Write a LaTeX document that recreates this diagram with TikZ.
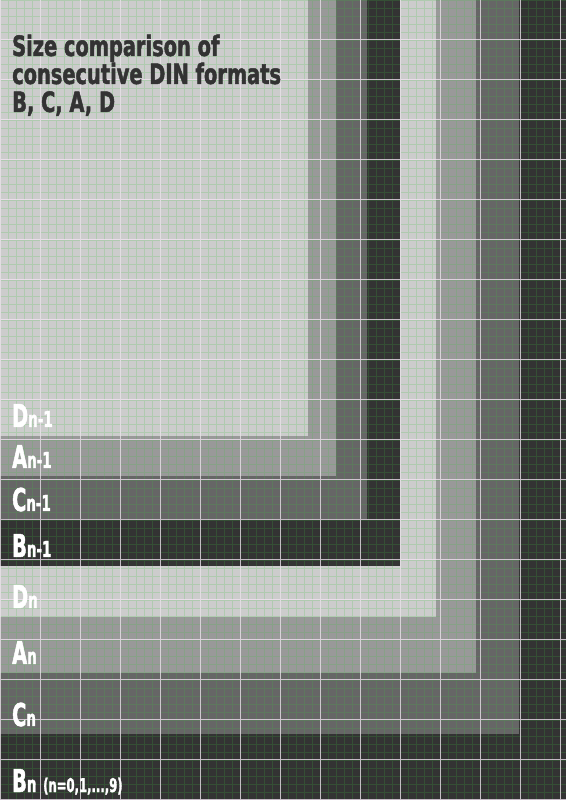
\documentclass[tikz,border=0pt]{standalone}
\usepackage{fontspec}
\newfontfamily\dinfont[FakeStretch=0.68,FakeBold=1.5]{DejaVu Sans Condensed}
\newfontfamily\titlefont[FakeStretch=0.77,FakeBold=1.6]{DejaVu Sans Condensed}
\definecolor{bgray}{HTML}{333333}
\definecolor{cgray}{HTML}{666666}
\definecolor{agray}{HTML}{999999}
\definecolor{dgray}{HTML}{CCCCCC}
\definecolor{gridgreen}{HTML}{3FC23F}
\definecolor{gridpink}{HTML}{F4E4F4}
\newcommand\dinidx[1]{{\fontsize{22}{22}\selectfont #1}}
\begin{document}
\begin{tikzpicture}[x=1pt,y=1pt,
  minorgrid/.style={draw=gridgreen,opacity=0.2,line width=0.6pt},
  majorgrid/.style={draw=gridpink,opacity=0.75,line width=1pt},
  titletext/.style={anchor=north west,inner sep=0pt,align=left,text=bgray,font=\titlefont\bfseries\fontsize{28}{28}\selectfont},
  lab/.style={anchor=base west,inner sep=0pt,text=white,font=\dinfont\bfseries\fontsize{31.5}{31.5}\selectfont}]
  \useasboundingbox (0,0) rectangle (566,800);
  % nested formats, all from the top left corner
  \fill[bgray](0,800) rectangle (566,0);
  \fill[cgray](0,800) rectangle (519,66);
  \fill[agray](0,800) rectangle (476,127);
  \fill[dgray](0,800) rectangle (436,183);
  \fill[bgray](0,800) rectangle (400,234);
  \fill[cgray](0,800) rectangle (367,281);
  \fill[agray](0,800) rectangle (336,324);
  \fill[dgray](0,800) rectangle (308,364);
  % grid
  \draw[minorgrid](0,0) grid[step=8] (566,800);
  \draw[majorgrid](0,0) grid[step=40] (566,800);
  % title
  \node[titletext] (title) at (12,765.5) {Size comparison of\\consecutive DIN formats\\B, C, A, D};
  % labels
  \node[lab] (dprev) at (12,373) {D\dinidx{n-1}};
  \node[lab] (aprev) at (12,332) {A\dinidx{n-1}};
  \node[lab] (cprev) at (12,289) {C\dinidx{n-1}};
  \node[lab] (bprev) at (12,243) {B\dinidx{n-1}};
  \node[lab] (dcur) at (12,192) {D\dinidx{n}};
  \node[lab] (acur) at (12,136) {A\dinidx{n}};
  \node[lab] (ccur) at (12,74) {C\dinidx{n}};
  \node[lab] (bcur) at (12,8) {B\dinidx{n} {\fontsize{19}{19}\selectfont(n=0,1,...,9)}};
\end{tikzpicture}
\end{document}
